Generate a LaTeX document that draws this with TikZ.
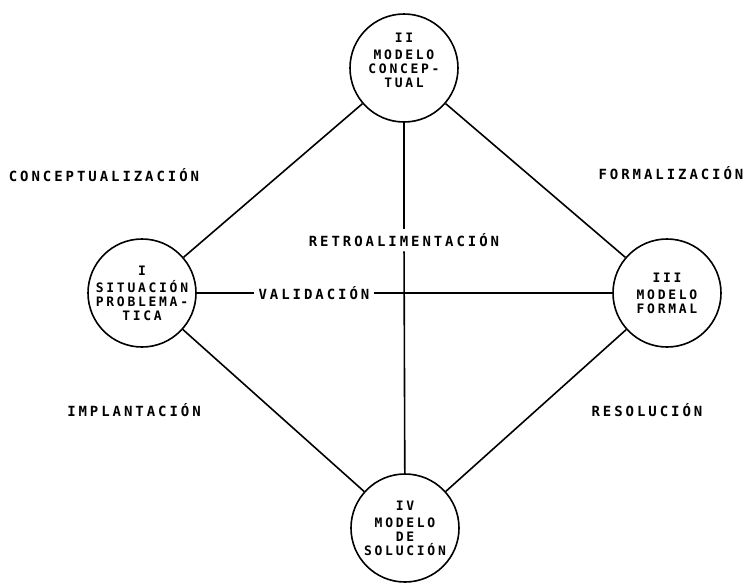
\documentclass[tikz,border=0pt]{standalone}
\usepackage{fontspec}
\newfontfamily\maquina[LetterSpace=21]{DejaVu Sans Mono}
\usetikzlibrary{positioning}

\begin{document}
\begin{tikzpicture}[x=1pt, y=-1pt, line width=1.6pt,
        etapa/.style={draw, circle, minimum size=108pt, inner sep=0pt, align=center,
            font=\maquina\bfseries\fontsize{13}{14}\selectfont},
        paso/.style={inner sep=4pt, font=\maquina\bfseries\fontsize{14}{14}\selectfont}]
        \useasboundingbox (0, 0) rectangle (750, 584);

        \node [etapa] (C1) at (142, 293) {I\\[3pt]SITUACIÓN\\PROBLEMA-\\TICA};
        \node [etapa] (C2) at (404, 68) {II\\[3pt]MODELO\\CONCEP-\\TUAL\\[2pt]};
        \node [etapa] (C3) at (667, 293) {III\\[3pt]MODELO\\FORMAL};
        \node [etapa] (C4) at (405, 528) {IV\\[3pt]MODELO\\DE\\SOLUCIÓN};

        \node [paso] (V) at (314, 293) {VALIDACIÓN};
        \node [paso] (R) at (404, 240) {RETROALIMENTACIÓN};

        \node [paso] (L1) at (104, 175) {CONCEPTUALIZACIÓN};
        \node [paso] (L2) at (671, 173) {FORMALIZACIÓN};
        \node [paso] (L3) at (134, 410) {IMPLANTACIÓN};
        \node [paso] (L4) at (647, 410) {RESOLUCIÓN};

        \draw (C1) -- (C2);
        \draw (C2) -- (C3);
        \draw (C1) -- (C4);
        \draw (C4) -- (C3);

        \draw (C1) -- (V);
        \draw (V) -- (C3);
        \draw (C2) -- (R);
        \draw (R) -- (C4);
    \end{tikzpicture}
\end{document}
